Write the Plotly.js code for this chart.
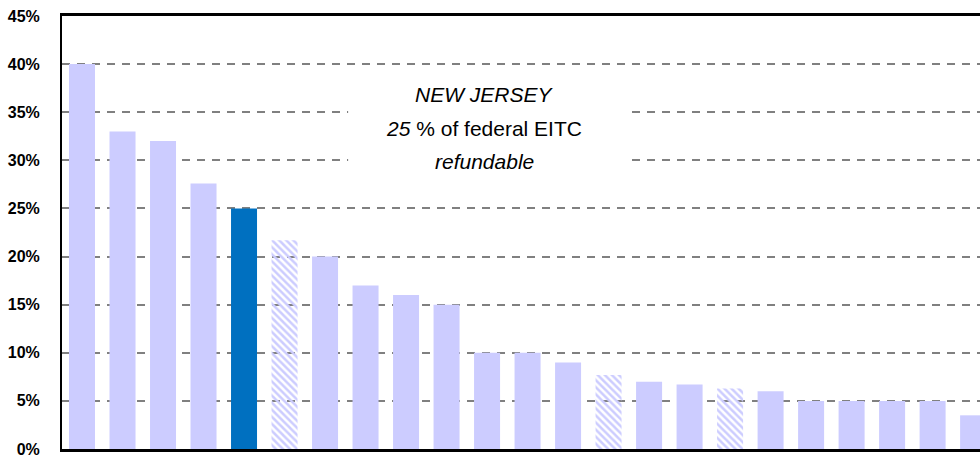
<!DOCTYPE html>
<html>
<head>
<meta charset="utf-8">
<script src="https://cdn.plot.ly/plotly-3.0.1.min.js"></script>
<style>html,body{margin:0;padding:0;background:#fff;}#chart{width:980px;height:458px;}</style>
</head>
<body>
<div id="chart"></div>
<script>
// Data (state EITC as % of federal EITC)
const categories = ["S1","S2","S3","S4","New Jersey","S6","S7","S8","S9","S10","S11","S12","S13","S14","S15","S16","S17","S18","S19","S20","S21","S22","S23"];
const values = [40, 33, 32, 27.6, 25, 21.7, 20, 17, 16, 15, 10, 10, 9, 7.7, 7, 6.7, 6.3, 6, 5, 5, 5, 5, 3.5];
const refundable = [1,1,1,1,1,0,1,1,1,1,1,1,1,0,1,1,0,1,1,1,1,1,1]; // 0 = hatched bars
const highlight = "New Jersey";
const tickVals = [0, 5, 10, 15, 20, 25, 30, 35, 40, 45];
const tickText = ["0%","5%","10%","15%","20%","25%","30%","35%","40%","45%"];

const LAV = "#ccccff", NJ = "#0070c0";
const colors = categories.map((c,i) => c === highlight ? NJ : LAV);
const shapes = refundable.map(r => r ? "" : "\\");

const trace = {
  type: "bar",
  x: categories,
  y: values,
  marker: {
    color: colors,
    line: {width: 0},
    pattern: {
      shape: shapes,
      fgcolor: LAV,
      bgcolor: "#ffffff",
      fgopacity: 1,
      size: 5,
      solidity: 0.5,
      fillmode: "replace"
    }
  },
  hoverinfo: "skip"
};

const layout = {
  width: 980, height: 458,
  margin: {l: 62, r: 0, t: 16, b: 9, pad: 0},
  paper_bgcolor: "#fff", plot_bgcolor: "#fff",
  showlegend: false,
  bargap: 0.358,
  font: {family: "Liberation Sans, Arial, sans-serif", color: "#000"},
  xaxis: {
    type: "category",
    range: [-0.494, 22.17],
    showticklabels: false, ticks: "",
    showgrid: false, zeroline: false,
    showline: true, linecolor: "#000", linewidth: 3, mirror: true
  },
  yaxis: {
    range: [0, 45],
    tickvals: tickVals, ticktext: tickText,
    tickfont: {size: 16, family: "Liberation Sans, Arial, sans-serif", weight: "bold", color: "#000"},
    ticks: "", ticklabelstandoff: 17, ticklabeloverflow: "allow",
    showgrid: true, gridcolor: "#808080", gridwidth: 2, griddash: "8px,7px",
    zeroline: false,
    showline: true, linecolor: "#000", linewidth: 2
  },
  shapes: [{
    type: "rect", layer: "between",
    xref: "x", yref: "y",
    x0: 6.57, x1: 13.53, y0: 28.3, y1: 38.6,
    fillcolor: "#ffffff", line: {width: 0}
  }],
  annotations: [
    {x: 9.93, y: 36.8, xref: "x", yref: "y", showarrow: false,
     text: "<i>NEW JERSEY</i>", font: {size: 21}},
    {x: 9.93, y: 33.26, xref: "x", yref: "y", showarrow: false,
     text: "<i>25</i> % of federal EITC", font: {size: 21}},
    {x: 9.93, y: 29.83, xref: "x", yref: "y", showarrow: false,
     text: "<i>refundable</i>", font: {size: 21}}
  ]
};

Plotly.newPlot("chart", [trace], layout, {displayModeBar: false, staticPlot: true});
</script>
</body>
</html>
